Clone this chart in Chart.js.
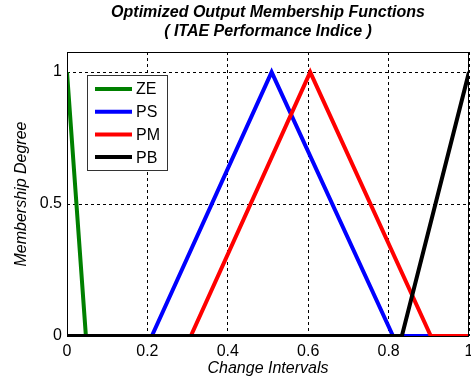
<!DOCTYPE html>
<html>
<head>
<meta charset="utf-8">
<script src="https://cdn.jsdelivr.net/npm/chart.js@4"></script>
<style>
    html, body { margin: 0; padding: 0; background: #ffffff; }
    #wrap { width: 471px; height: 383px; }
</style>
</head>
<body>
<div id="wrap"><canvas id="chart" width="471" height="383"></canvas></div>
<script>
// --- data ---
const seriesNames = ['ZE', 'PS', 'PM', 'PB'];
const seriesColors = ['#008000', '#0000ff', '#ff0000', '#000000'];

const zeX = [0, 0.047, 1];
const zeY = [1, 0, 0];
const psX = [0, 0.211, 0.509, 0.811, 1];
const psY = [0, 0, 1, 0, 0];
const pmX = [0, 0.308, 0.605, 0.905, 1];
const pmY = [0, 0, 1, 0, 0];
const pbX = [0, 0.833, 1];
const pbY = [0, 0, 1];

const xTicks = [0, 0.2, 0.4, 0.6, 0.8, 1];
const yTicks = [0, 0.5, 1];

const FONT = '"Liberation Sans", Arial, sans-serif';

function pts(xs, ys) {
    return xs.map((x, i) => ({ x: x, y: ys[i] }));
}

const allX = [zeX, psX, pmX, pbX];
const allY = [zeY, psY, pmY, pbY];

const datasets = seriesNames.map((name, i) => ({
    label: name,
    data: pts(allX[i], allY[i]),
    borderColor: seriesColors[i],
    backgroundColor: seriesColors[i],
    borderWidth: 4,
    pointRadius: 0,
    showLine: true,
    tension: 0,
    order: seriesNames.length - i
}));

// frame round the plot area
const framePlugin = {
    id: 'frame',
    afterDatasetsDraw(chart) {
        const { ctx, chartArea: a } = chart;
        ctx.save();
        ctx.strokeStyle = '#000';
        ctx.lineWidth = 1;
        ctx.strokeRect(a.left + 0.5, a.top + 0.5, a.right - a.left - 1, a.bottom - a.top);
        ctx.restore();
    }
};

// legend box in the upper left corner
const legendBox = {
    id: 'legendBox',
    afterDraw(chart) {
        const { ctx, chartArea: a } = chart;
        const x0 = a.left + 20, y0 = a.top + 23;
        const w = 80, h = 95;
        ctx.save();
        ctx.fillStyle = '#fff';
        ctx.fillRect(x0, y0, w, h);
        ctx.strokeStyle = '#333';
        ctx.lineWidth = 1;
        ctx.strokeRect(x0 + 0.5, y0 + 0.5, w, h);
        ctx.font = '16px ' + FONT;
        ctx.textBaseline = 'middle';
        chart.data.datasets.forEach((ds, i) => {
            const y = y0 + 14 + i * 22.7;
            ctx.strokeStyle = ds.borderColor;
            ctx.lineWidth = 4;
            ctx.beginPath();
            ctx.moveTo(x0 + 8, y);
            ctx.lineTo(x0 + 45, y);
            ctx.stroke();
            ctx.fillStyle = '#000';
            ctx.fillText(ds.label, x0 + 49, y + 1);
        });
        ctx.restore();
    }
};

new Chart(document.getElementById('chart'), {
    type: 'scatter',
    data: { datasets },
    options: {
        responsive: false,
        animation: false,
        layout: { padding: { top: 0, right: 2, left: 0, bottom: 0 } },
        plugins: {
            legend: { display: false },
            tooltip: { enabled: false },
            title: {
                display: true,
                fullSize: false,
                text: ['Optimized Output Membership Functions', '( ITAE Performance Indice )'],
                color: '#000',
                font: { family: FONT, size: 16, weight: 'bold', style: 'italic', lineHeight: 1.2 },
                padding: { top: 3, bottom: 10.6 }
            }
        },
        scales: {
            x: {
                type: 'linear',
                min: 0,
                max: 1,
                afterBuildTicks: (s) => { s.ticks = xTicks.map(v => ({ value: v })); },
                afterFit: (s) => { s.height = 47; s.paddingRight = 0; s.paddingLeft = 0; },
                border: { display: false, dash: [3, 3] },
                grid: { color: '#000', lineWidth: 1, drawTicks: false },
                ticks: {
                    color: '#000',
                    padding: 6,
                    maxRotation: 0,
                    font: { family: FONT, size: 16 },
                    callback: (v) => String(v)
                },
                title: {
                    display: true,
                    text: 'Change Intervals',
                    color: '#000',
                    font: { family: FONT, size: 16, style: 'italic', lineHeight: 1.2 },
                    padding: { top: 0, bottom: 4.4 }
                }
            },
            y: {
                type: 'linear',
                min: 0,
                max: 1.076,
                afterBuildTicks: (s) => { s.ticks = yTicks.map(v => ({ value: v })); },
                afterFit: (s) => { s.width = 67; },
                border: { display: false, dash: [3, 3] },
                grid: { color: '#000', lineWidth: 1, drawTicks: false },
                ticks: {
                    color: '#000',
                    padding: 5,
                    font: { family: FONT, size: 16 },
                    callback: (v) => String(v)
                },
                title: {
                    display: true,
                    text: 'Membership Degree',
                    color: '#000',
                    font: { family: FONT, size: 16, style: 'italic', lineHeight: 1.2 },
                    padding: { top: 12.4, bottom: 0 }
                }
            }
        }
    },
    plugins: [framePlugin, legendBox]
});
</script>
</body>
</html>
